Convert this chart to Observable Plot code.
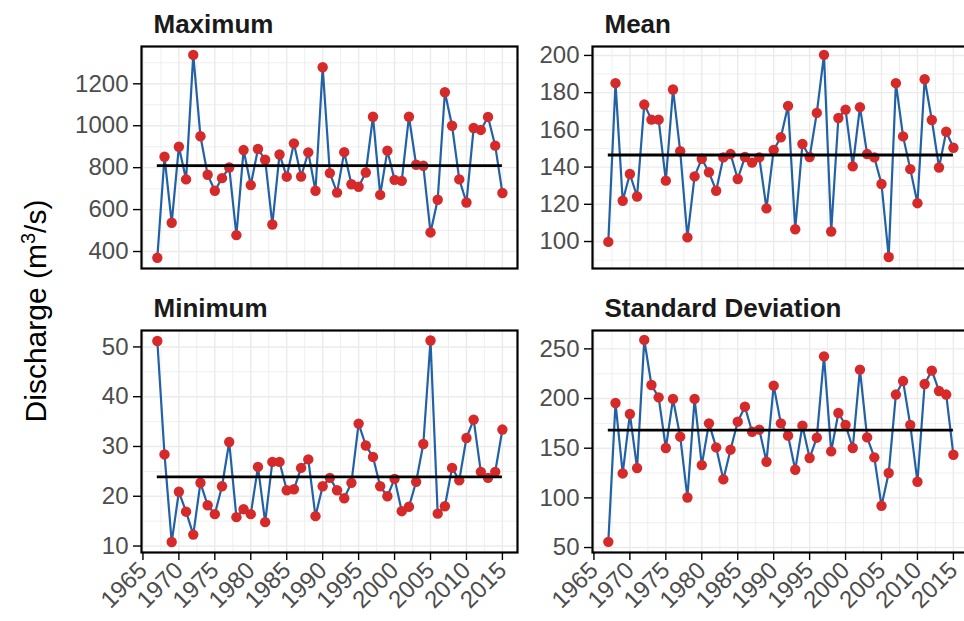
<!DOCTYPE html>
<html><head><meta charset="utf-8">
<script src="https://cdn.jsdelivr.net/npm/d3@7"></script>
<script src="https://cdn.jsdelivr.net/npm/@observablehq/plot@0.6"></script>
<style>
body{margin:0;background:#fff;}
#chart{position:relative;width:964px;height:621px;overflow:hidden;background:#fff;font-family:"Liberation Sans",Arial,sans-serif;}
#chart svg{position:absolute;overflow:visible;}
#ytitle{position:absolute;left:35px;top:311px;transform:translate(-50%,-50%) rotate(-90deg);white-space:nowrap;font-size:30px;color:#000;}
#ytitle sup{font-size:20px;}
</style></head><body><div id="chart"><div id="ytitle">Discharge (m<sup>3</sup>/s)</div></div>
<script>
const years = [1967,1968,1969,1970,1971,1972,1973,1974,1975,1976,1977,1978,1979,1980,1981,1982,1983,1984,1985,1986,1987,1988,1989,1990,1991,1992,1993,1994,1995,1996,1997,1998,1999,2000,2001,2002,2003,2004,2005,2006,2007,2008,2009,2010,2011,2012,2013,2014,2015];
const maximum = [370,852,537,900,744,1338,950,766,690,750,801,478,884,717,889,838,529,863,757,916,758,873,690,1279,774,681,874,721,709,777,1043,670,881,742,737,1043,814,809,491,647,1160,1000,744,634,989,980,1042,905,679];
const mean = [99.8,185.1,121.9,136.3,124.2,173.6,165.5,165.5,132.7,181.7,148.5,102.2,135.0,144.5,137.2,127.3,145.2,147.0,133.6,145.4,142.4,145.2,117.8,149.2,156.0,172.9,106.6,152.4,145.4,169.1,200.3,105.4,166.4,170.9,140.4,172.2,147.0,145.2,130.9,91.7,185.1,156.5,138.9,120.6,187.2,165.3,139.8,159.0,150.4];
const minimum = [51.2,28.4,10.8,20.9,16.9,12.3,22.7,18.2,16.4,22.0,30.9,15.8,17.4,16.4,25.9,14.8,26.9,26.9,21.2,21.4,25.7,27.4,16.0,22.0,23.7,21.2,19.6,22.7,34.6,30.2,27.9,22.0,20.0,23.5,17.0,17.9,22.9,30.5,51.3,16.5,18.0,25.7,23.2,31.7,35.4,24.9,23.7,24.9,33.4];
const stdDev = [55.7,195.5,124.6,184.4,130.0,259.0,213.6,201.2,150.2,199.6,161.6,100.4,199.6,133.0,175.0,150.8,118.6,148.5,176.7,191.8,166.6,168.7,136.4,213.0,175.0,162.6,128.3,172.7,140.1,160.6,242.5,146.8,185.4,173.4,150.2,229.1,160.9,140.8,92.0,125.0,204.0,217.6,173.4,116.2,214.6,228.1,207.6,204.0,143.4];
const refLevels = [810, 146.5, 23.9, 168.3];
const panelTitles = ["Maximum", "Mean", "Minimum", "Standard Deviation"];
const xTicks = [1965,1970,1975,1980,1985,1990,1995,2000,2005,2010,2015];
const xMinor = [1967.5,1972.5,1977.5,1982.5,1987.5,1992.5,1997.5,2002.5,2007.5,2012.5];
const maxTicks = [400,600,800,1000,1200];
const maxMinor = [500,700,900,1100,1300];
const meanTicks = [100,120,140,160,180,200];
const meanMinor = [90,110,130,150,170,190];
const minTicks = [10,20,30,40,50];
const minMinor = [15,25,35,45];
const sdTicks = [50,100,150,200,250];
const sdMinor = [75,125,175,225];

const chart = document.getElementById("chart");
const W = 376, H = 222;
const font = "'Liberation Sans', Arial, sans-serif";
const plain = d => String(d);

function panel(values, ref, title, ticks, minor, yDomain, left, top, showX) {
  const data = years.map((yr, i) => ({year: yr, v: values[i]}));
  const refRow = [{v: ref, x1: years[0], x2: years[years.length - 1]}];
  const mL = 80, mT = 46, mR = 20, mB = showX ? 80 : 10;
  const svg = Plot.plot({
    width: W + mL + mR, height: H + mT + mB,
    marginLeft: mL, marginTop: mT, marginRight: mR, marginBottom: mB,
    style: {fontFamily: font, background: "transparent", overflow: "visible"},
    x: {domain: [1964.8, 2017.1], axis: null},
    y: {domain: yDomain, axis: null},
    marks: [
      Plot.gridX(xMinor, {stroke: "#ebebeb", strokeOpacity: 1, strokeWidth: 0.8}),
      Plot.gridY(minor, {stroke: "#ebebeb", strokeOpacity: 1, strokeWidth: 0.8}),
      Plot.gridX(xTicks, {stroke: "#ebebeb", strokeOpacity: 1, strokeWidth: 1.4}),
      Plot.gridY(ticks, {stroke: "#ebebeb", strokeOpacity: 1, strokeWidth: 1.4}),
      Plot.line(data, {x: "year", y: "v", stroke: "#2261a6", strokeWidth: 2.2}),
      Plot.dot(data, {x: "year", y: "v", r: 5.2, fill: "#d62a2a", stroke: "none"}),
      Plot.ruleY(refRow, {y: "v", x1: "x1", x2: "x2", stroke: "black", strokeWidth: 2.8}),
      Plot.frame({stroke: "black", strokeWidth: 2.2}),
      Plot.axisY(ticks, {tickSize: 8, tickPadding: 5, fontSize: 24, tickFormat: plain, fill: "#4d4d4d", stroke: "black", strokeWidth: 1.4, label: null}),
      showX ? Plot.axisX(xTicks, {tickSize: 8, tickRotate: -45, fontSize: 24, tickFormat: plain, fill: "#4d4d4d", stroke: "black", strokeWidth: 1.4, label: null}) : null,
      Plot.text([title], {frameAnchor: "top-left", dx: 12, dy: -14, lineAnchor: "bottom", textAnchor: "start", fontWeight: "bold", fontSize: 26, fill: "#1a1a1a"})
    ]
  });
  svg.style.left = (left - mL) + "px";
  svg.style.top = (top - mT) + "px";
  chart.appendChild(svg);
}

panel(maximum, refLevels[0], panelTitles[0], maxTicks, maxMinor, [319, 1378], 141, 46, false);
panel(mean, refLevels[1], panelTitles[1], meanTicks, meanMinor, [85.5, 204.8], 592, 46, false);
panel(minimum, refLevels[2], panelTitles[2], minTicks, minMinor, [8.7, 53.3], 141, 330, true);
panel(stdDev, refLevels[3], panelTitles[3], sdTicks, sdMinor, [45, 268.5], 592, 330, true);
</script></body></html>
